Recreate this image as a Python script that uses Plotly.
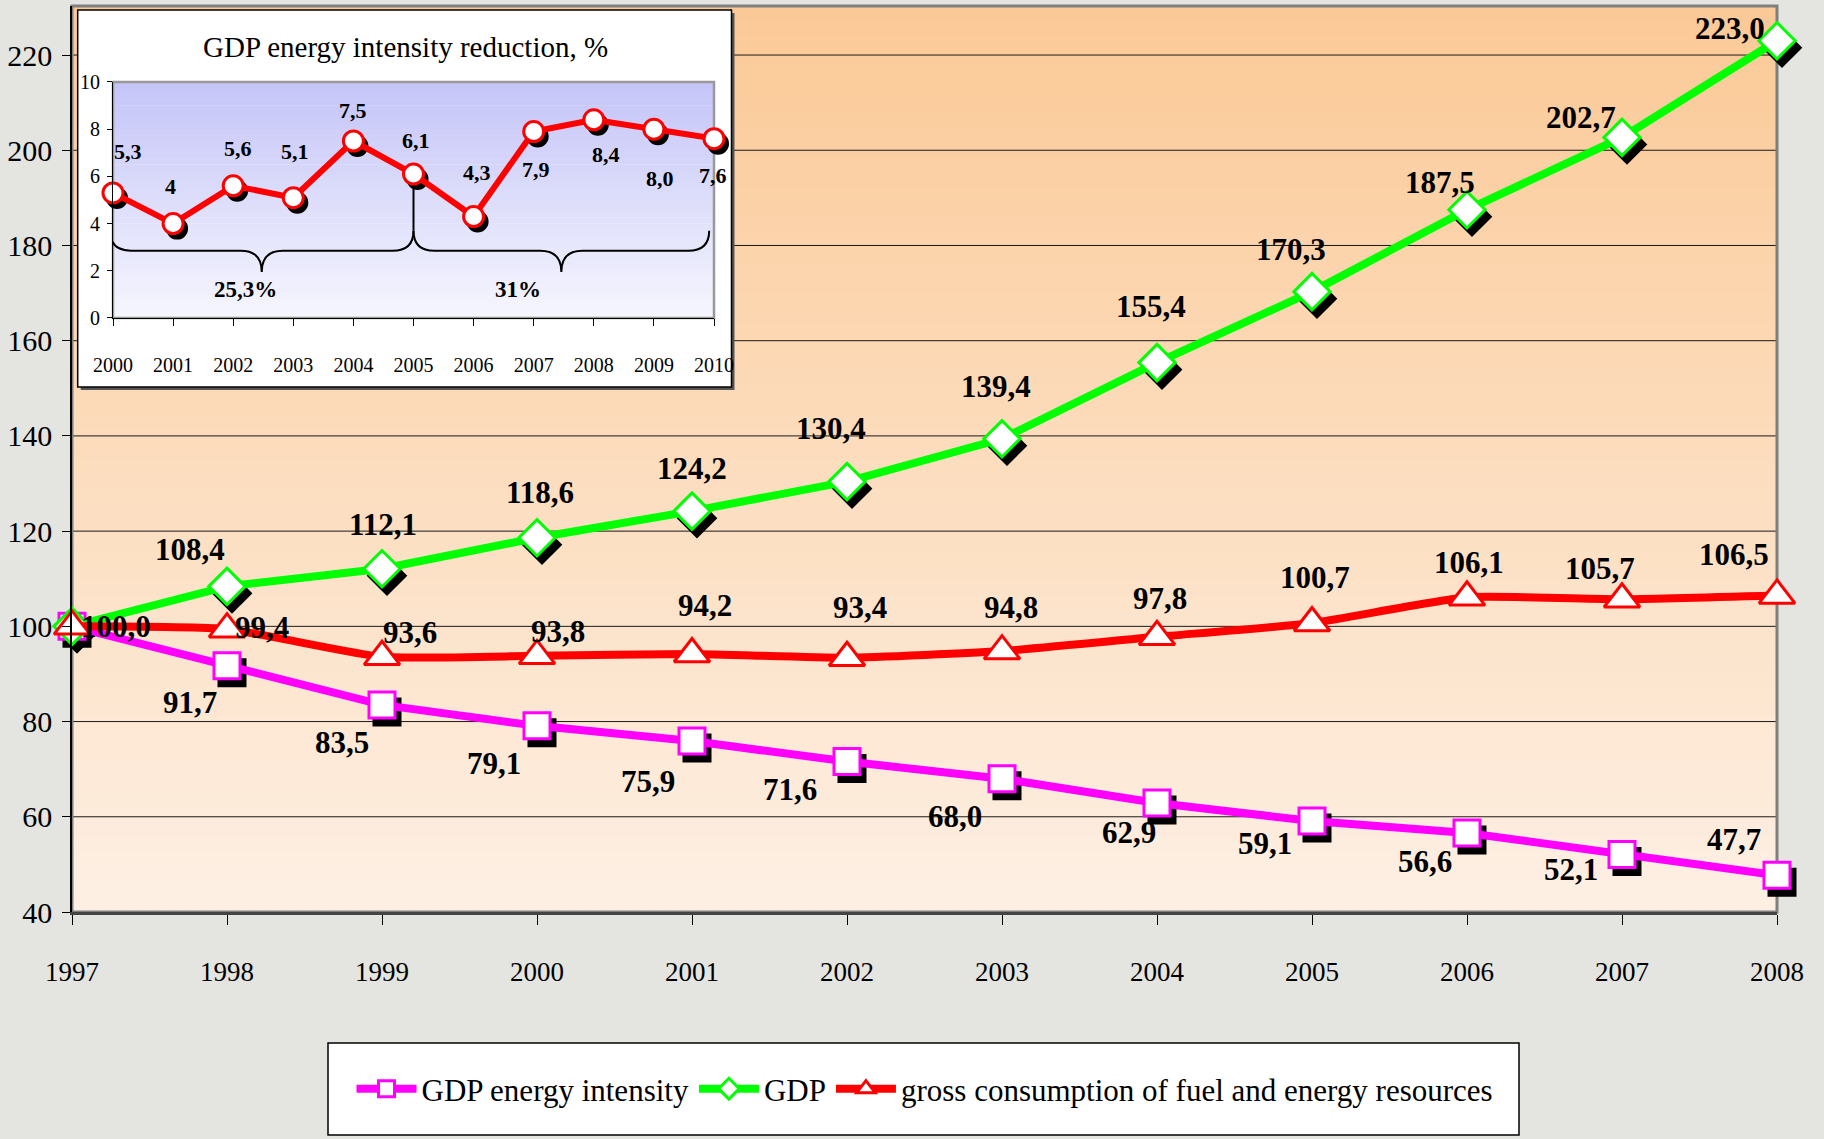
import plotly.graph_objects as go

# ---------------- data ----------------
years = list(range(1997, 2009))
gdp_intensity = [100.0, 91.7, 83.5, 79.1, 75.9, 71.6, 68.0, 62.9, 59.1, 56.6, 52.1, 47.7]
gdp = [100.0, 108.4, 112.1, 118.6, 124.2, 130.4, 139.4, 155.4, 170.3, 187.5, 202.7, 223.0]
consumption = [100.0, 99.4, 93.6, 93.8, 94.2, 93.4, 94.8, 97.8, 100.7, 106.1, 105.7, 106.5]
series_names = ["GDP energy intensity", "GDP", "gross consumption of fuel and energy resources"]

y_ticks = [40, 60, 80, 100, 120, 140, 160, 180, 200, 220]

inset_title = "GDP energy intensity reduction, %"
inset_years = list(range(2000, 2011))
inset_reduction = [5.3, 4.0, 5.6, 5.1, 7.5, 6.1, 4.3, 7.9, 8.4, 8.0, 7.6]
inset_labels = ["5,3", "4", "5,6", "5,1", "7,5", "6,1", "4,3", "7,9", "8,4", "8,0", "7,6"]
inset_y_ticks = [0, 2, 4, 6, 8, 10]
period_labels = ["25,3%", "31%"]
period_bounds = [(2000, 2005), (2005, 2010)]

# ---------------- styling / geometry (pixels) ----------------
FONT = "Liberation Serif"
FW, FH = 1824, 1139
SH_DX, SH_DY = 5, 7          # main marker shadow offset (px)
ISH_DX, ISH_DY = 4, 5        # inset marker shadow offset (px)
PX0, PX1, PY0, PY1 = 72, 1777, 6, 912      # main plot box
IX0, IX1, IY0, IY1 = 113, 714, 82, 318     # inset plot box

ML, MT = PX0, PY0
MR = FW - PX1 - SH_DX
MB = FH - PY1 - SH_DY
Wp = FW - ML - MR
Hp = FH - MT - MB
PB = FH - MB


def fx(px):
    return (px - ML) / Wp


def fy(py):
    return (PB - py) / Hp


Y_RANGE = [40, 230.3]
X_RANGE = [1997, 2008]

MAGENTA = "#ff00ff"
GREEN = "#00ff00"
RED = "#ff0000"

# label offsets (px, dx, dy where +dy is down in picture)
off_intensity = [None, (-37, 37), (-40, 38), (-43, 38), (-44, 40), (-57, 28), (-47, 38),
                 (-28, 30), (-47, 22), (-42, 29), (-51, 15), (-43, -36)]
off_gdp = [None, (-37, -37), (1, -44), (3, -45), (0, -43), (-16, -53), (-6, -52),
           (-6, -56), (-21, -42), (-27, -27), (-41, -20), (-47, -12)]
off_cons = [(44, 0), (35, -2), (28, -24), (21, -24), (13, -48), (13, -50), (9, -44),
            (3, -38), (3, -46), (2, -35), (-22, -31), (-43, -41)]
off_inset = [(15, -41), (-3, -37), (5, -37), (2, -46), (0, -30), (2, -34), (3, -44),
             (2, 38), (12, 35), (6, 49), (-1, 37)]


def fmt(v):
    return f"{v:.1f}".replace(".", ",")


fig = go.Figure()

# shadows on their own subplot (xy), same ranges, domain shifted by a few px
fig.add_trace(go.Scatter(x=years, y=gdp_intensity, mode="markers", xaxis="x", yaxis="y",
                         marker=dict(symbol="square", size=26, color="black",
                                     line=dict(color="black", width=3)),
                         cliponaxis=False, showlegend=False, hoverinfo="skip"))
fig.add_trace(go.Scatter(x=years, y=gdp, mode="markers", xaxis="x", yaxis="y",
                         marker=dict(symbol="diamond", size=28, color="black",
                                     line=dict(color="black", width=3)),
                         cliponaxis=False, showlegend=False, hoverinfo="skip"))

# main series
fig.add_trace(go.Scatter(x=years, y=gdp_intensity, mode="lines+markers", name=series_names[0],
                         xaxis="x2", yaxis="y2", cliponaxis=False,
                         line=dict(color=MAGENTA, width=8),
                         marker=dict(symbol="square", size=26, color="white",
                                     line=dict(color=MAGENTA, width=3))))
fig.add_trace(go.Scatter(x=years, y=gdp, mode="lines+markers", name=series_names[1],
                         xaxis="x2", yaxis="y2", cliponaxis=False,
                         line=dict(color=GREEN, width=8),
                         marker=dict(symbol="diamond", size=28, color="white",
                                     line=dict(color=GREEN, width=3))))
fig.add_trace(go.Scatter(x=years, y=consumption, mode="lines+markers", name=series_names[2],
                         xaxis="x2", yaxis="y2", cliponaxis=False,
                         line=dict(color=RED, width=8, shape="spline", smoothing=0.5),
                         marker=dict(symbol="triangle-up", size=31, color="white",
                                     line=dict(color=RED, width=3))))

# inset shadow + series
fig.add_trace(go.Scatter(x=inset_years, y=inset_reduction, mode="markers", xaxis="x3", yaxis="y3",
                         marker=dict(symbol="circle", size=20, color="black",
                                     line=dict(color="black", width=2)),
                         cliponaxis=False, showlegend=False, hoverinfo="skip"))
fig.add_trace(go.Scatter(x=inset_years, y=inset_reduction, mode="lines+markers", xaxis="x4", yaxis="y4",
                         cliponaxis=False,
                         line=dict(color=RED, width=6),
                         marker=dict(symbol="circle", size=20, color="white",
                                     line=dict(color=RED, width=3)),
                         showlegend=False))

# ---------------- shapes ----------------
shapes = []


def lerp(c1, c2, t):
    a = [int(c1[i:i + 2], 16) for i in (1, 3, 5)]
    b = [int(c2[i:i + 2], 16) for i in (1, 3, 5)]
    return "rgb(%d,%d,%d)" % tuple(round(a[k] + (b[k] - a[k]) * t) for k in range(3))


N = 60
for i in range(N):
    t = (i + 0.5) / N
    shapes.append(dict(type="rect", xref="x2 domain", yref="y2 domain", x0=0, x1=1,
                       y0=i / N, y1=(i + 1) / N + 0.001,
                       fillcolor=lerp("#fdf0e4", "#fbc996", t), line=dict(width=0), layer="below"))
for yv in y_ticks[1:]:
    shapes.append(dict(type="line", xref="x2 domain", yref="y2", x0=0, x1=1, y0=yv, y1=yv,
                       line=dict(color="#1a1a1a", width=1), layer="below"))
shapes.append(dict(type="rect", xref="x2 domain", yref="y2 domain", x0=0, x1=1, y0=0, y1=1,
                   line=dict(color="#7f7f7f", width=3), layer="below"))

# inset box (with small drop shadow)
BX0, BX1, BY0, BY1 = 77.7, 731.5, 10, 387
shapes.append(dict(type="rect", xref="paper", yref="paper", x0=fx(BX0 + 3), x1=fx(BX1 + 3),
                   y0=fy(BY1 + 3), y1=fy(BY0 + 3),
                   fillcolor="#555555", line=dict(width=0), layer="below"))
shapes.append(dict(type="rect", xref="paper", yref="paper", x0=fx(BX0), x1=fx(BX1),
                   y0=fy(BY1), y1=fy(BY0),
                   fillcolor="white", line=dict(color="black", width=1.5), layer="below"))
M = 40
for i in range(M):
    t = (i + 0.5) / M
    shapes.append(dict(type="rect", xref="x4 domain", yref="y4 domain", x0=0, x1=1,
                       y0=i / M, y1=(i + 1) / M + 0.002,
                       fillcolor=lerp("#f6f6fe", "#c4c4f8", t), line=dict(width=0), layer="below"))
shapes.append(dict(type="rect", xref="x4 domain", yref="y4 domain", x0=0, x1=1, y0=0, y1=1,
                   line=dict(color="#999999", width=2.5), layer="below"))


def brace_path(xa, xb, ytop=3.7, ymid=2.85, ytip=1.95, c=0.35):
    xm = (xa + xb) / 2
    return (f"M{xa},{ytop} Q{xa},{ymid} {xa + c},{ymid} L{xm - c},{ymid} "
            f"Q{xm},{ymid} {xm},{ytip} Q{xm},{ymid} {xm + c},{ymid} "
            f"L{xb - c},{ymid} Q{xb},{ymid} {xb},{ytop}")


for (xa, xb) in period_bounds:
    shapes.append(dict(type="path", xref="x4", yref="y4",
                       path=brace_path(xa - 0.05 if xa == inset_years[0] else xa,
                                       xb - 0.08 if xb == inset_years[-1] else xb),
                       line=dict(color="black", width=2), layer="below"))
mid_x = period_bounds[0][1]
mid_idx = inset_years.index(mid_x)
shapes.append(dict(type="line", xref="x4", yref="y4", x0=mid_x, x1=mid_x,
                   y0=3.7, y1=inset_reduction[mid_idx], line=dict(color="black", width=2), layer="below"))

# legend box
shapes.append(dict(type="rect", xref="paper", yref="paper",
                   x0=fx(328), x1=fx(1519), y0=fy(1135), y1=fy(1043),
                   fillcolor="white", line=dict(color="black", width=1.5), layer="below"))

# ---------------- annotations ----------------
ann = []
lab_font = dict(family=FONT, size=31, color="black", weight="bold")
for vals, offs in ((gdp_intensity, off_intensity), (gdp, off_gdp), (consumption, off_cons)):
    for x, v, o in zip(years, vals, offs):
        if o is None:
            continue
        ann.append(dict(x=x, y=v, xref="x2", yref="y2", text=fmt(v), showarrow=False,
                        xanchor="center", yanchor="middle",
                        xshift=o[0], yshift=-o[1], font=lab_font))
for x, v, t, o in zip(inset_years, inset_reduction, inset_labels, off_inset):
    ann.append(dict(x=x, y=v, xref="x4", yref="y4", text=t, showarrow=False,
                    xanchor="center", yanchor="middle",
                    xshift=o[0], yshift=-o[1], font=dict(family=FONT, size=22, color="black", weight="bold")))
for (xa, xb), t, dx in zip(period_bounds, period_labels, (-0.3, -0.76)):
    ann.append(dict(x=(xa + xb) / 2 + dx, y=1.19, xref="x4", yref="y4", text=t, showarrow=False,
                    xanchor="center", yanchor="middle",
                    font=dict(family=FONT, size=23, color="black", weight="bold")))
ann.append(dict(x=fx(405), y=fy(47), xref="paper", yref="paper", text=inset_title,
                showarrow=False, xanchor="center", yanchor="middle",
                font=dict(family=FONT, size=29, color="black")))

main_dom_x = [fx(PX0), fx(PX1)]
main_dom_y = [fy(PY1), fy(PY0)]
sh_dom_x = [fx(PX0 + SH_DX), fx(PX1 + SH_DX)]
sh_dom_y = [fy(PY1 + SH_DY), fy(PY0 + SH_DY)]
ins_dom_x = [fx(IX0), fx(IX1)]
ins_dom_y = [fy(IY1), fy(IY0)]
ish_dom_x = [fx(IX0 + ISH_DX), fx(IX1 + ISH_DX)]
ish_dom_y = [fy(IY1 + ISH_DY), fy(IY0 + ISH_DY)]


def clamp(d):
    return [max(0.0, min(1.0, round(v, 6))) for v in d]


fig.update_layout(
    width=FW, height=FH,
    margin=dict(l=ML, r=MR, t=MT, b=MB, autoexpand=False),
    paper_bgcolor="#e4e4e1",
    plot_bgcolor="rgba(0,0,0,0)",
    shapes=shapes,
    annotations=ann,
    showlegend=True,
    legend=dict(orientation="h", x=fx(925), xanchor="center", y=fy(1089), yanchor="middle",
                bgcolor="rgba(0,0,0,0)", borderwidth=0,
                font=dict(family=FONT, size=31, color="black"), itemwidth=60),
    xaxis=dict(range=X_RANGE, visible=False, domain=clamp(sh_dom_x), anchor="y", automargin=False),
    yaxis=dict(range=Y_RANGE, visible=False, domain=clamp(sh_dom_y), anchor="x", automargin=False),
    xaxis2=dict(range=X_RANGE, domain=clamp(main_dom_x), anchor="y2", tickvals=years,
                ticks="outside", ticklen=10, tickcolor="black", tickwidth=1,
                showline=True, linecolor="#444444", linewidth=3, showgrid=False, zeroline=False,
                tickfont=dict(family=FONT, size=27, color="black"), ticklabelstandoff=24,
                automargin=False),
    yaxis2=dict(range=Y_RANGE, domain=clamp(main_dom_y), anchor="x2", tickvals=y_ticks,
                ticks="outside", ticklen=8, tickcolor="black",
                showline=True, linecolor="black", linewidth=1.5, showgrid=False, zeroline=False,
                tickfont=dict(family=FONT, size=30, color="black"), ticklabelstandoff=4,
                automargin=False),
    xaxis3=dict(domain=clamp(ish_dom_x), anchor="y3", visible=False, automargin=False, range=[2000, 2010]),
    yaxis3=dict(domain=clamp(ish_dom_y), anchor="x3", visible=False, automargin=False, range=[0, 10]),
    xaxis4=dict(domain=clamp(ins_dom_x), anchor="y4", range=[2000, 2010], tickvals=inset_years,
                ticks="outside", ticklen=7, tickcolor="black", showline=True, linecolor="black",
                linewidth=1, showgrid=False, zeroline=False, automargin=False,
                tickfont=dict(family=FONT, size=20, color="black"), ticklabelstandoff=22),
    yaxis4=dict(domain=clamp(ins_dom_y), anchor="x4", range=[0, 10], tickvals=inset_y_ticks,
                ticks="outside", ticklen=5, tickcolor="black", showline=True, linecolor="black",
                linewidth=1, showgrid=False, zeroline=False, automargin=False,
                tickfont=dict(family=FONT, size=20, color="black"), ticklabelstandoff=3),
)

fig.write_html("out.html", config={"displayModeBar": False},
               post_script="document.body.style.margin='0';document.body.style.overflow='hidden';")
